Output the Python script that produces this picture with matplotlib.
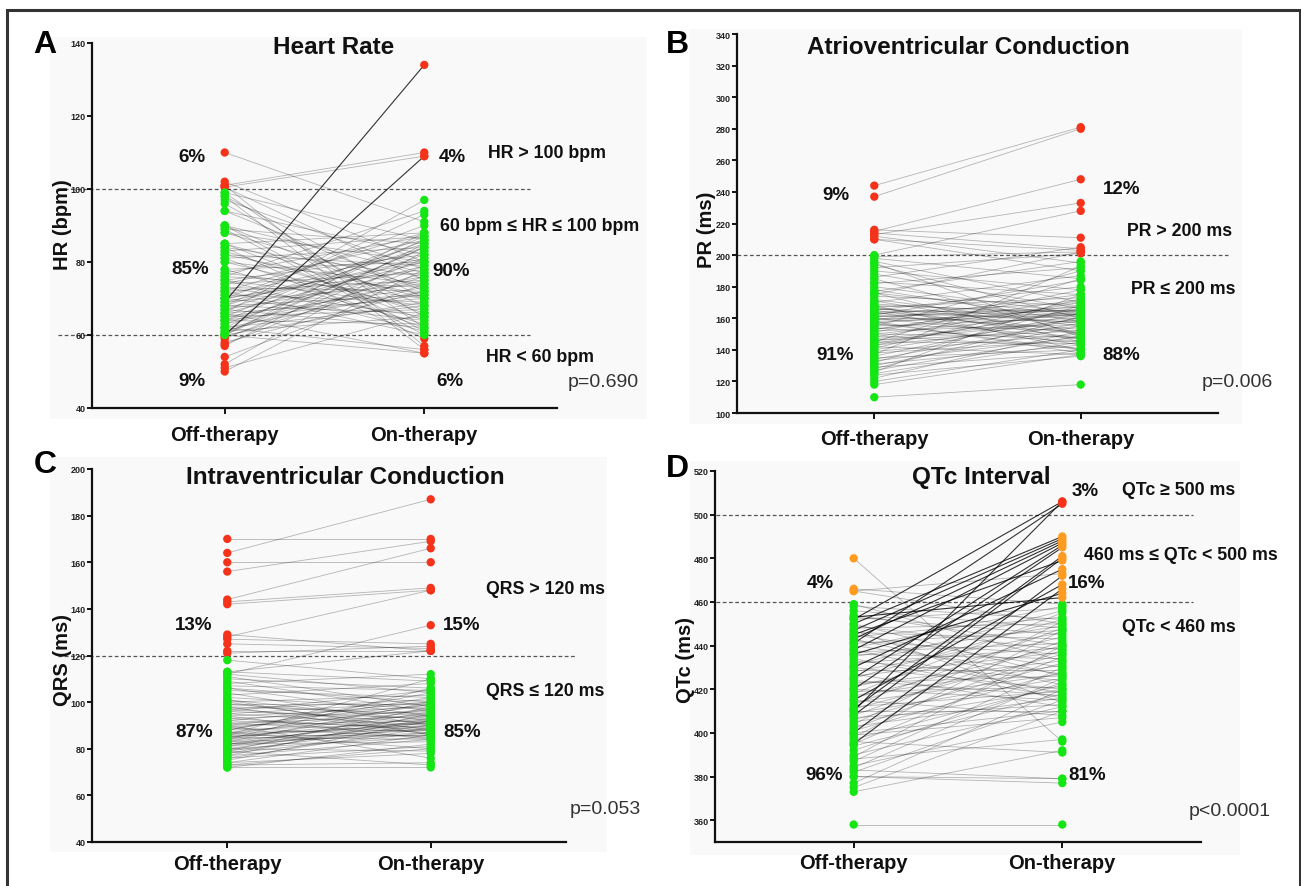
import matplotlib
matplotlib.use('Agg')
import matplotlib.pyplot as plt
from matplotlib import font_manager
from matplotlib.patches import Rectangle

# ---------------- data ----------------
hr_off = [110, 102, 101, 101, 100.5, 100.5, 99, 99, 98, 98,
          97, 96, 94, 94, 90, 90, 90, 89, 89, 88,
          88, 85, 85, 85, 84, 84, 83, 83, 82, 82,
          81, 81, 80, 80, 78, 78, 77, 77, 76, 76,
          75, 75, 75, 74, 74, 73, 73, 72, 72, 72,
          71, 71, 70, 70, 70, 69, 69, 69, 68, 68,
          68, 68, 67, 67, 67, 66, 66, 66, 65, 65,
          65, 64, 64, 64, 63, 63, 62, 62, 62, 61,
          61, 60.5, 60, 60, 60, 60, 59.5, 59, 58, 57.5,
          57, 54, 52, 51, 50, 60, 62, 66, 64, 70]
hr_on = [91, 80, 57, 110, 109, 75, 62, 86, 70, 56,
         78, 65, 72, 82, 61, 77, 68, 85, 60, 73,
         80, 64, 88, 70, 76, 59, 66, 87, 71, 79,
         62, 84, 74, 67, 80, 63, 87, 70, 73, 94,
         68, 82, 61, 77, 86, 72, 65, 88, 75, 60,
         83, 69, 78, 64, 90, 134, 74, 81, 66, 85,
         71, 93, 76, 62, 84, 70, 80, 97, 73, 67,
         87, 79, 63, 71, 82, 75, 68, 86, 72, 77,
         65, 84, 109, 84, 69, 88, 76, 81, 72, 79,
         85, 74, 83, 66, 78, 55, 56, 55, 86, 80]

pr_off = [244, 237, 216, 215, 214, 213, 212, 210, 210,
          200, 199, 198, 196, 195, 194, 192, 190, 188, 186,
          185, 183, 182, 180, 178, 177, 176, 175, 174, 172,
          170, 169, 168, 167, 166, 165, 165, 164, 164, 163,
          163, 162, 162, 161, 160, 160, 159, 158, 158, 157,
          156, 155, 155, 154, 153, 152, 151, 150, 150, 149,
          148, 147, 146, 145, 145, 144, 143, 142, 141, 140,
          139, 138, 137, 136, 135, 134, 133, 132, 131, 130,
          129, 128, 127, 126, 125, 124, 122, 120, 118, 110,
          176, 168, 166, 171, 161, 157, 153, 146, 167, 159, 143]
pr_on = [281, 280, 211, 248, 204, 233, 195, 203, 190,
         228, 202, 185, 170, 148, 160, 201, 178, 166, 205,
         150, 175, 192, 163, 158, 196, 145, 202, 168, 155,
         187, 162, 140, 173, 157, 180, 150, 165, 143, 160,
         170, 153, 184, 167, 147, 158, 175, 162, 138, 166,
         152, 190, 160, 145, 168, 156, 178, 148, 163, 141,
         170, 159, 152, 185, 144, 165, 155, 137, 172, 160,
         150, 146, 193, 163, 140, 157, 148, 168, 143, 155,
         138, 161, 149, 175, 145, 136, 152, 140, 137, 118,
         162, 164, 161, 150, 165, 140, 172, 158, 147, 163, 166]

qrs_off = [170, 164, 160, 156, 144, 143, 142, 129, 128, 127, 125, 122, 121,
           112, 113,
           118, 113, 112, 111, 110, 109, 108, 106, 106, 105,
           104, 103, 102, 101, 100, 100, 99, 98, 98, 97,
           96, 96, 95, 94, 94, 93, 92, 92, 91, 91,
           90, 90, 89, 89, 88, 88, 87, 87, 86, 86,
           86, 85, 85, 85, 84, 84, 83, 83, 83, 82,
           82, 82, 81, 81, 80, 80, 79, 79, 78, 78,
           77, 77, 76, 76, 75, 74, 74, 73, 73, 72,
           72, 88, 84, 87, 93, 95, 80, 86, 90, 82,
           97, 99, 101, 107, 79]
qrs_on = [170, 187, 160, 169, 166, 149, 148, 122, 148, 125, 123, 122, 124,
          133, 122,
          110, 109, 104, 98, 106, 96, 112, 100, 94, 102,
          90, 108, 97, 92, 103, 88, 99, 95, 86, 101,
          93, 105, 90, 98, 84, 96, 100, 89, 94, 87,
          99, 92, 85, 97, 91, 102, 88, 95, 90, 86,
          99, 93, 84, 91, 97, 88, 92, 100, 86, 94,
          90, 83, 96, 89, 92, 85, 98, 90, 87, 93,
          84, 95, 81, 89, 92, 78, 86, 80, 74, 72,
          82, 104, 106, 80, 88, 100, 79, 110, 76, 87,
          91, 94, 86, 105, 73]

qtc_off = [480, 466, 465, 465,
           452, 441, 410,
           450, 447, 443, 438, 425, 420, 411, 408, 445, 430, 400, 415, 395, 436, 453,
           358, 373, 375, 377, 380, 380, 382, 384, 385, 387,
           388, 389, 390, 394, 395, 396, 397, 398, 400, 401,
           402, 403, 404, 405, 406, 407, 408, 409, 410, 411,
           412, 413, 414, 415, 416, 417, 418, 419, 420, 421,
           422, 423, 424, 425, 426, 427, 428, 429, 430, 431,
           432, 433, 434, 435, 436, 437, 438, 439, 440, 441,
           442, 443, 444, 445, 446, 447, 448, 449, 450, 452,
           453, 454, 456, 458, 459, 383, 392, 399]
qtc_on = [396, 459, 473, 450,
          506, 505, 506,
          490, 489, 488, 487, 486, 485, 481, 480, 479, 475, 472, 468, 466, 464, 462,
          358, 392, 410, 420, 379, 377, 415, 425, 405, 430,
          397, 440, 412, 418, 435, 391, 422, 447, 410, 428,
          438, 416, 451, 420, 432, 413, 442, 425, 410, 436,
          419, 448, 427, 408, 440, 431, 455, 421, 415, 444,
          433, 426, 417, 452, 437, 412, 446, 429, 420, 456,
          439, 424, 416, 449, 434, 441, 418, 458, 427, 447,
          436, 422, 453, 430, 443, 414, 450, 438, 426, 457,
          445, 440, 448, 452, 433, 379, 423, 407]

groups = ["Off-therapy", "On-therapy"]
letters = ["A", "B", "C", "D"]
titles = ["Heart Rate", "Atrioventricular Conduction", "Intraventricular Conduction", "QTc Interval"]
ylabels = ["HR (bpm)", "PR (ms)", "QRS (ms)", "QTc (ms)"]
pvalues = ["p=0.690", "p=0.006", "p=0.053", "p<0.0001"]

hr_pct_off = ["6%", "85%", "9%"]
hr_pct_on = ["4%", "90%", "6%"]
hr_cats = ["HR > 100 bpm", "60 bpm \u2264 HR \u2264 100 bpm", "HR < 60 bpm"]
pr_pct_off = ["9%", "91%"]
pr_pct_on = ["12%", "88%"]
pr_cats = ["PR > 200 ms", "PR \u2264 200 ms"]
qrs_pct_off = ["13%", "87%"]
qrs_pct_on = ["15%", "85%"]
qrs_cats = ["QRS > 120 ms", "QRS \u2264 120 ms"]
qtc_pct_off = ["4%", "96%"]
qtc_pct_on = ["3%", "16%", "81%"]
qtc_cats = ["QTc \u2265 500 ms", "460 ms \u2264 QTc < 500 ms", "QTc < 460 ms"]

# ---------------- style ----------------
W, H = 1301, 887
names = {f.name for f in font_manager.fontManager.ttflist}
NARROW = 'Liberation Sans Narrow' if 'Liberation Sans Narrow' in names else 'Liberation Sans'
REG = 'Liberation Sans'
GREEN = '#14e614'
RED = '#f5331a'
ORANGE = '#ff9b21'

fig = plt.figure(figsize=(W / 100, H / 100), dpi=100)
fig.patch.set_facecolor('white')


def fx(x):
    return x / W


def fy(y):
    return 1 - y / H


def T(x, y, s, size, weight='bold', family=None, ha='center', va='center', rot=0, color='#111111'):
    fig.text(fx(x), fy(y), s, fontsize=size, fontweight=weight, family=family or NARROW,
             ha=ha, va=va, rotation=rot, color=color)


def bg(x0, y0, x1, y1):
    fig.add_artist(Rectangle((fx(x0), fy(y1)), (x1 - x0) / W, (y1 - y0) / H,
                             transform=fig.transFigure, facecolor='#f9f9f9', edgecolor='none', zorder=0))


# outer frame
fig.add_artist(Rectangle((fx(7), fy(900)), (1300 - 7) / W, (900 - 11) / H, transform=fig.transFigure,
                         fill=False, edgecolor='#333333', linewidth=2.2, zorder=10, clip_on=False))

bg(50, 38, 647, 420)
bg(689, 30, 1242, 425)
bg(50, 458, 607, 853)
bg(690, 462, 1240, 856)


def make_axes(l, r, t, b, ylim, yticks, off, on, colorfn, thresholds, dash_x, dark_thr, pad):
    ax = fig.add_axes([fx(l), fy(b), (r - l) / W, (b - t) / H])
    ax.patch.set_alpha(0)
    ax.set_xlim(-0.665, 1.665)
    ax.set_ylim(*ylim)
    for sp in ['top', 'right']:
        ax.spines[sp].set_visible(False)
    for sp in ['left', 'bottom']:
        ax.spines[sp].set_linewidth(1.6)
        ax.spines[sp].set_color('#111111')
    ax.set_yticks(yticks)
    ax.set_yticklabels([str(v) for v in yticks], fontsize=6.5, fontweight='bold', family=REG, color='#222222')
    ax.set_xticks([0, 1])
    ax.set_xticklabels(groups, fontsize=14.5, fontweight='bold', family=NARROW, color='#111111')
    ax.tick_params(axis='y', length=3.5, width=1.3, pad=1)
    ax.tick_params(axis='x', length=4, width=1.3, pad=pad)
    for thr in thresholds:
        ax.plot(dash_x, [thr, thr], transform=ax.get_yaxis_transform(), clip_on=False,
                ls=(0, (3, 2)), color='#555555', lw=0.9, zorder=1)
    for o, n in zip(off, on):
        dark = dark_thr is not None and o < dark_thr <= n
        ax.plot([0, 1], [o, n], color='black', lw=0.8 if dark else 0.6,
                alpha=0.8 if dark else 0.28, zorder=2, solid_capstyle='round')
    ax.scatter([0] * len(off), off, c=[colorfn(v) for v in off], s=36, linewidths=0, zorder=3, clip_on=False)
    ax.scatter([1] * len(on), on, c=[colorfn(v) for v in on], s=36, linewidths=0, zorder=3, clip_on=False)
    return ax


# Panel A
make_axes(92, 557, 44, 409, (40, 140), [40, 60, 80, 100, 120, 140], hr_off, hr_on,
          lambda v: RED if (v > 100 or v < 60) else GREEN, [60, 100], [-0.073, 0.942], 100.001, 8)
# Panel B
make_axes(737, 1218, 35, 414, (100, 340), list(range(100, 341, 20)), pr_off, pr_on,
          lambda v: RED if v > 200 else GREEN, [200], [0.0, 1.02], None, 7.5)
# Panel C
make_axes(92, 566, 470, 843, (40, 200), list(range(40, 201, 20)), qrs_off, qrs_on,
          lambda v: RED if v > 120 else GREEN, [120], [-0.072, 1.02], None, 5)
# Panel D
make_axes(715, 1201, 472, 843, (350, 520), list(range(360, 521, 20)), qtc_off, qtc_on,
          lambda v: RED if v >= 500 else (ORANGE if v >= 460 else GREEN), [460, 500], [0.002, 0.984], 460, 4)

# panel letters
for (x, y), s in zip([(45, 45), (677, 45), (45, 465), (677, 469)], letters):
    T(x, y, s, 23, family=REG, color='#000000')

# titles
for (x, y), s in zip([(334, 47), (968, 47), (345, 478), (981, 478)], titles):
    T(x, y, s, 17.5)

# y labels
for (x, y), s in zip([(63, 225), (706, 230), (63, 660), (686, 660)], ylabels):
    T(x, y, s, 14.5, rot=90)

# p-values
for (x, y), s in zip([(603, 383), (1237, 383), (605, 810), (1230, 812)], pvalues):
    T(x, y, s, 14, weight='normal', family=REG, color='#333333')

# percentages and category labels
PS = 13.5
CS = 12.8
for (x, y), s in zip([(192, 157), (190, 270), (192, 382)], hr_pct_off):
    T(x, y, s, PS)
for (x, y), s in zip([(452, 157), (451, 272), (450, 382)], hr_pct_on):
    T(x, y, s, PS)
for (x, y), s in zip([(547, 153), (540, 227), (540, 357)], hr_cats):
    T(x, y, s, CS)

for (x, y), s in zip([(836, 196), (835, 356)], pr_pct_off):
    T(x, y, s, PS)
for (x, y), s in zip([(1122, 190), (1121, 356)], pr_pct_on):
    T(x, y, s, PS)
for (x, y), s in zip([(1180, 231), (1183, 290)], pr_cats):
    T(x, y, s, CS)

for (x, y), s in zip([(194, 625), (194, 733)], qrs_pct_off):
    T(x, y, s, PS)
for (x, y), s in zip([(462, 625), (462, 733)], qrs_pct_on):
    T(x, y, s, PS)
for (x, y), s in zip([(545, 590), (545, 692)], qrs_cats):
    T(x, y, s, CS)

for (x, y), s in zip([(820, 584), (824, 776)], qtc_pct_off):
    T(x, y, s, PS)
for (x, y), s in zip([(1085, 492), (1087, 584), (1087, 776)], qtc_pct_on):
    T(x, y, s, PS)
for (x, y), s in zip([(1179, 491), (1181, 556), (1179, 628)], qtc_cats):
    T(x, y, s, CS)

fig.savefig('out.png', dpi=100, facecolor='white')
